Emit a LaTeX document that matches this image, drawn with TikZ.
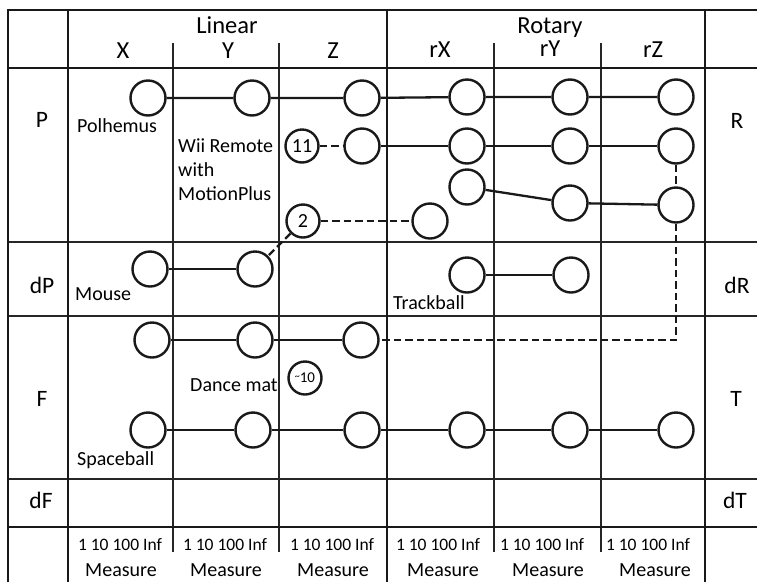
\documentclass[tikz,border=0pt]{standalone}
\usepackage{fontspec}
\setmainfont{Carlito}
\begin{document}
\begin{tikzpicture}[x=1pt,y=-1pt,
  thickline/.style={line width=2.8pt,draw=black!90},
  thinline/.style={line width=1.4pt,draw=black!85},
  dev/.style={circle,draw=black!90,line width=2.4pt,minimum size=35pt,inner sep=0pt},
  devs/.style={dev,minimum size=33pt},
  conn/.style={line width=2.3pt,draw=black!90},
  dconn/.style={conn,dash pattern=on 7.5pt off 4pt},
  hdr/.style={font=\fontsize{24.5}{28}\selectfont,anchor=base},
  rowlab/.style={font=\fontsize{23.5}{27}\selectfont,anchor=base},
  lab/.style={font=\fontsize{20}{24}\selectfont,anchor=base west,inner sep=0pt},
  num/.style={font=\fontsize{17.5}{20}\selectfont,anchor=base,inner sep=0pt},
  meas/.style={font=\fontsize{20}{24}\selectfont,anchor=base,inner sep=0pt}
]
\useasboundingbox (0,0) rectangle (757,582);
\fill[white] (0,0) rectangle (757,582);
% grid
\foreach \y in {242,316,479} \draw[thinline] (8,\y) -- (757,\y);
\foreach \x in {173,279,494,601} \draw[thinline] (\x,43) -- (\x,552);
\draw[thickline] (8,582) -- (8,10) -- (757,10);
\foreach \x in {68,387,705} \draw[thickline] (\x,10) -- (\x,582);
\foreach \y in {68,527} \draw[thickline] (8,\y) -- (757,\y);
% headers
\node[hdr] (hlin) at (227,33) {Linear};
\node[hdr] (hrot) at (550,33) {Rotary};
\node[hdr] (hx) at (123,58) {X};
\node[hdr] (hy) at (228,58) {Y};
\node[hdr] (hz) at (333,58) {Z};
\node[hdr] (hrx) at (440,57) {rX};
\node[hdr] (hry) at (550,56) {rY};
\node[hdr] (hrz) at (653,57) {rZ};
% row labels
\node[rowlab] (lp) at (42,127) {P};
\node[rowlab] (ldp) at (42,293) {dP};
\node[rowlab] (lf) at (42,406) {F};
\node[rowlab] (ldf) at (41,508) {dF};
\node[rowlab] (lr) at (737,128) {R};
\node[rowlab] (ldr) at (737,293) {dR};
\node[rowlab] (lt) at (736,406) {T};
\node[rowlab] (ldt) at (735,508) {dT};
% measure row
\foreach \c/\m [count=\i] in {120/121,225/226,332/333,438/443,542/548,648/655}{
  \node[num] (n\i) at (\c,550) {1 10 100 Inf};
  \node[meas] (ms\i) at (\m,576) {Measure};
}
% device labels
\node[lab] (tpol) at (77,132) {Polhemus};
\node[lab] (twii1) at (178,152) {Wii Remote};
\node[lab] (twii2) at (178,176) {with};
\node[lab] (twii3) at (178,200) {MotionPlus};
\node[lab] (tmou) at (75,300) {Mouse};
\node[lab] (ttrk) at (393,309) {Trackball};
\node[lab] (tdan) at (190,391) {Dance mat};
\node[lab] (tspc) at (77,465) {Spaceball};
% circles
\node[dev] (p1) at (148,98) {};
\node[dev] (p2) at (252,98) {};
\node[dev] (p3) at (362,98) {};
\node[dev] (p4) at (467,97) {};
\node[dev] (p5) at (570,97) {};
\node[dev] (p6) at (676,97) {};
\node[devs,font=\fontsize{20}{24}\selectfont] (w11) at (302,146) {11};
\node[dev] (w3) at (362,146) {};
\node[dev] (w4) at (467,146) {};
\node[dev] (w5) at (570,146) {};
\node[dev] (w6) at (676,146) {};
\node[dev] (r4) at (467,187) {};
\node[dev] (r5) at (570,203) {};
\node[dev] (r6) at (676,205) {};
\node[devs,font=\fontsize{20}{24}\selectfont] (c2) at (303,221) {2};
\node[dev] (c4) at (430,221) {};
\node[dev] (m1) at (150,269) {};
\node[dev] (m2) at (255,269) {};
\node[dev] (t4) at (467,275) {};
\node[dev] (t5) at (571,275) {};
\node[dev] (f1) at (152,340) {};
\node[dev] (f2) at (255,340) {};
\node[dev] (f3) at (361,340) {};
\node[devs,font=\fontsize{15}{18}\selectfont] (c10) at (305,378) {\raisebox{0.45ex}{\fontsize{10}{12}\selectfont\textasciitilde}10};
\node[dev] (s1) at (148,430) {};
\node[dev] (s2) at (253,430) {};
\node[dev] (s3) at (362,430) {};
\node[dev] (s4) at (467,430) {};
\node[dev] (s5) at (570,430) {};
\node[dev] (s6) at (676,430) {};
\coordinate (corner) at (676,340);
% connectors
\draw[conn] (p1) -- (p2) -- (p3) -- (p4) -- (p5) -- (p6);
\draw[dconn] (w11) -- (w3);
\draw[conn] (w3) -- (w4) -- (w5) -- (w6);
\draw[dconn] (w6) -- (r6);
\draw[conn] (r4) -- (r5) -- (r6);
\draw[dconn] (c2) -- (c4);
\draw[dconn] (c2) -- (m2);
\draw[conn] (m1) -- (m2);
\draw[conn] (t4) -- (t5);
\draw[conn] (f1) -- (f2) -- (f3);
\draw[dconn] (r6) -- (corner) -- (f3);
\draw[conn] (s1) -- (s2) -- (s3) -- (s4) -- (s5) -- (s6);
\end{tikzpicture}
\end{document}
